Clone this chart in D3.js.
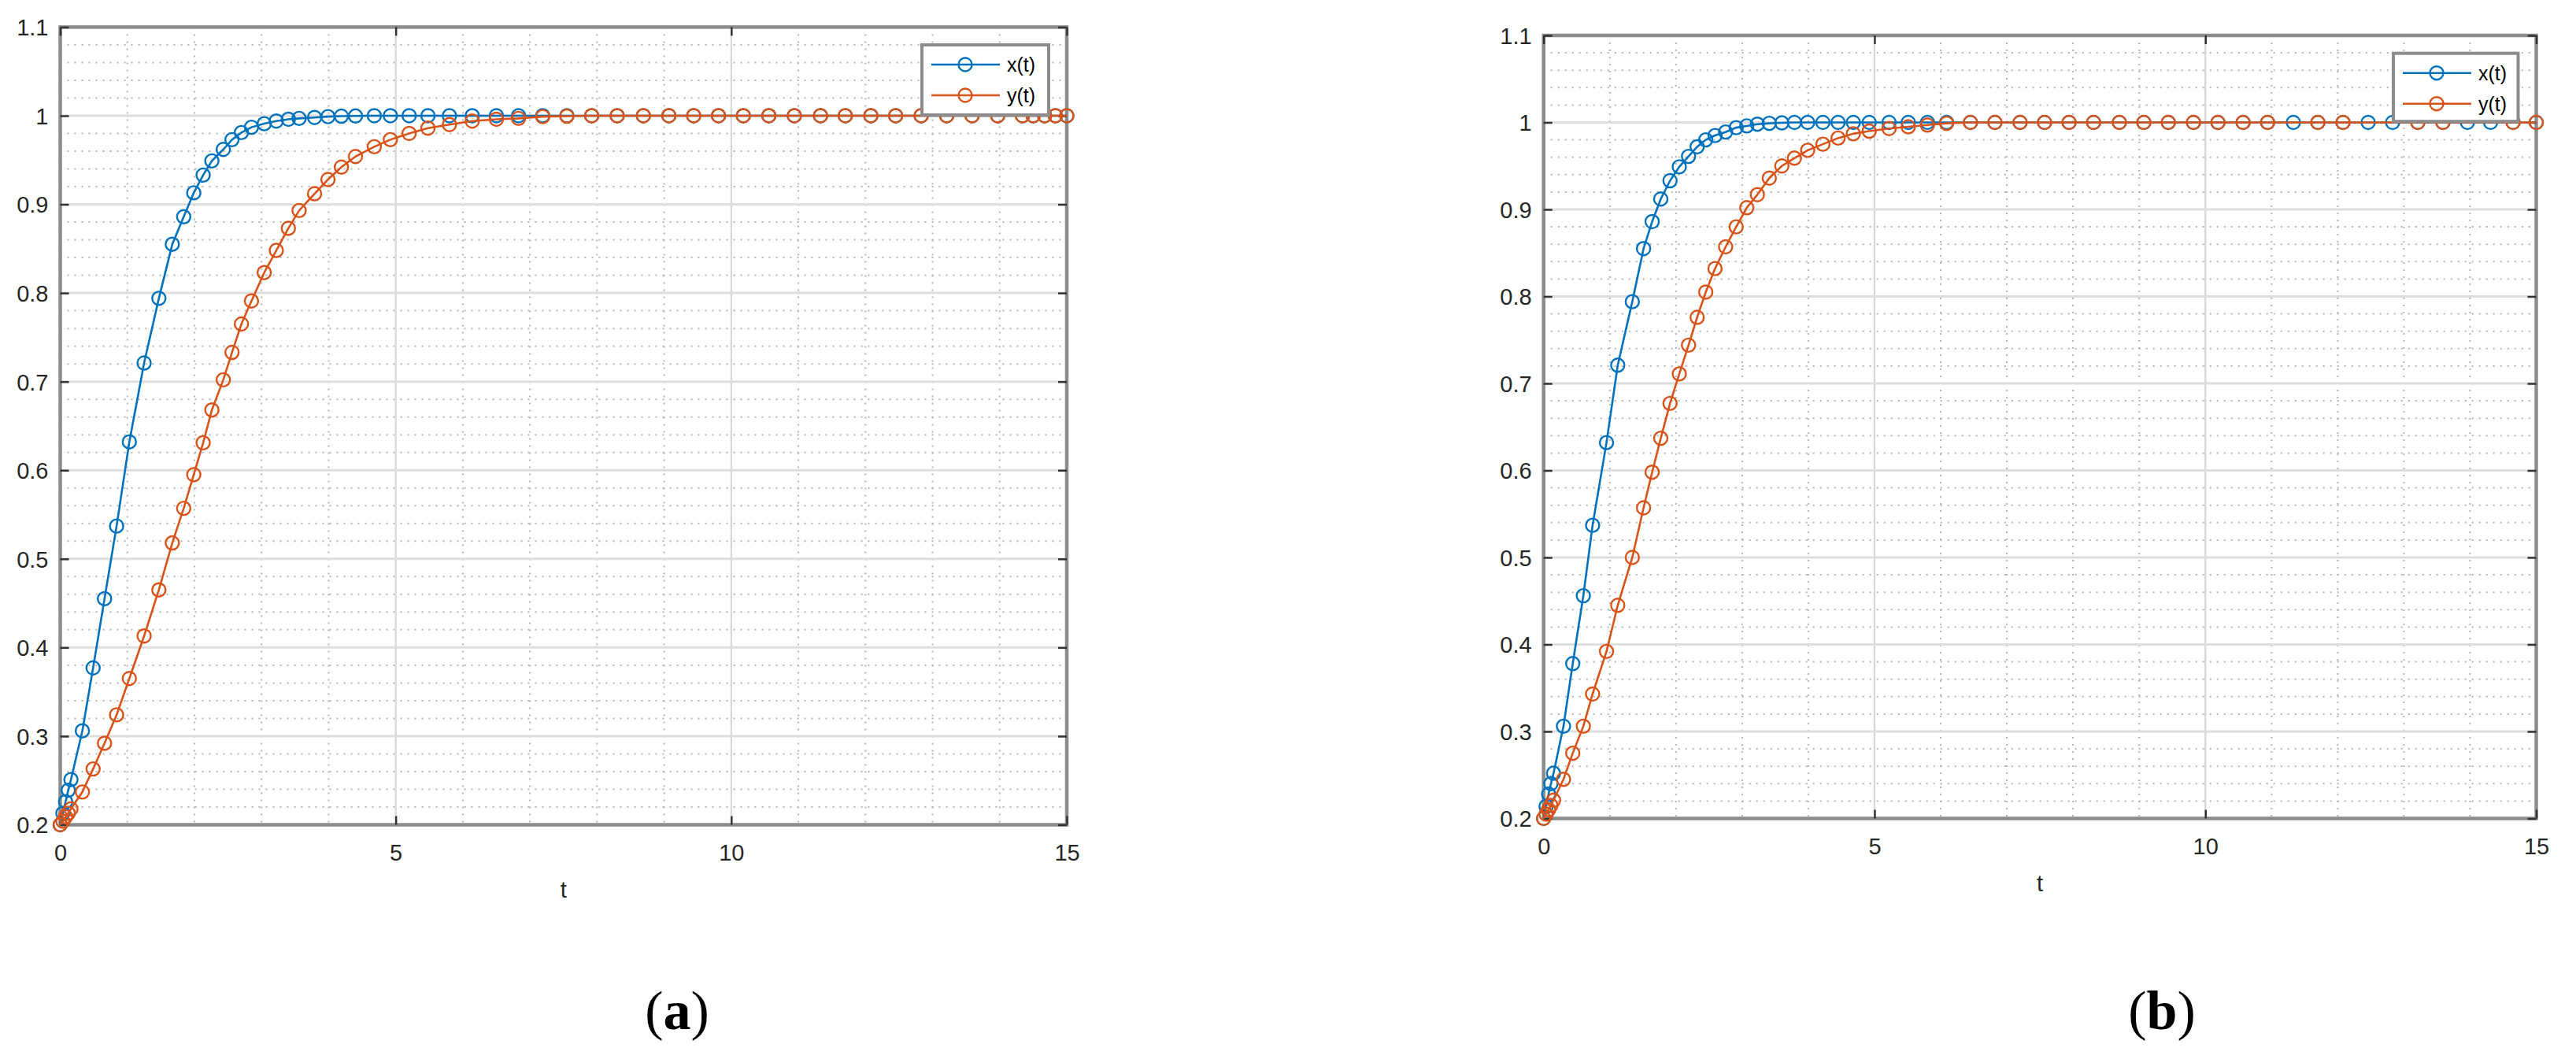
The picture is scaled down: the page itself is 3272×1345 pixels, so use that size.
<!DOCTYPE html>
<html>
<head>
<meta charset="utf-8">
<script src="https://cdn.jsdelivr.net/npm/d3@7"></script>
<style>
  html, body { margin: 0; padding: 0; background: #ffffff; }
  svg { display: block; }
</style>
</head>
<body>
<svg id="chart" width="3272" height="1345"></svg>
<script>
// ---------------- data ----------------
// panel (a): x(t) and y(t) share the solver time points
const tA = [0, 0.04, 0.08, 0.12, 0.16, 0.33, 0.49, 0.66, 0.84, 1.03, 1.25, 1.47, 1.67,
  1.84, 1.99, 2.13, 2.26, 2.43, 2.56, 2.70, 2.85, 3.04, 3.22, 3.40, 3.56, 3.79, 3.99,
  4.19, 4.40, 4.68, 4.92, 5.20, 5.48, 5.80, 6.14, 6.50, 6.83, 7.19, 7.55, 7.92, 8.30,
  8.69, 9.07, 9.44, 9.81, 10.18, 10.56, 10.94, 11.33, 11.70, 12.08, 12.45, 12.83,
  13.21, 13.59, 13.97, 14.34, 14.50, 14.67, 14.83, 15.00];
const xA = [0.200, 0.213, 0.226, 0.239, 0.251, 0.306, 0.377, 0.455, 0.537, 0.632, 0.721,
  0.794, 0.855, 0.886, 0.913, 0.933, 0.949, 0.962, 0.973, 0.981, 0.987, 0.991, 0.994,
  0.996, 0.997, 0.998, 0.999, 0.9995, 0.9997, 1, 1, 1, 1, 1, 1, 1, 1, 1, 1, 1, 1, 1, 1,
  1, 1, 1, 1, 1, 1, 1, 1, 1, 1, 1, 1, 1, 1, 1, 1, 1, 1];
const yA = [0.200, 0.204, 0.209, 0.213, 0.218, 0.237, 0.263, 0.292, 0.324, 0.365, 0.413,
  0.465, 0.518, 0.557, 0.595, 0.631, 0.668, 0.702, 0.733, 0.765, 0.791, 0.823, 0.848,
  0.873, 0.893, 0.912, 0.928, 0.942, 0.954, 0.965, 0.973, 0.980, 0.986, 0.990, 0.994,
  0.996, 0.997, 0.999, 0.9995, 1, 1, 1, 1, 1, 1, 1, 1, 1, 1, 1, 1, 1, 1, 1, 1, 1, 1, 1,
  1, 1, 1];

// panel (b): x(t) time points
const tBx = [0, 0.037, 0.075, 0.11, 0.15, 0.30, 0.44, 0.60, 0.74, 0.95, 1.12, 1.34, 1.51,
  1.64, 1.77, 1.91, 2.05, 2.19, 2.32, 2.45, 2.59, 2.75, 2.91, 3.07, 3.23, 3.41, 3.60,
  3.79, 3.99, 4.22, 4.45, 4.68, 4.92, 5.22, 5.51, 5.80, 6.09, 6.45, 6.82, 7.20, 7.57,
  7.94, 8.31, 8.70, 9.07, 9.44, 9.82, 10.19, 10.57, 10.94, 11.33, 11.70, 12.08, 12.46,
  12.83, 13.21, 13.59, 13.96, 14.31, 14.65, 15.00];
const xB = [0.200, 0.214, 0.228, 0.240, 0.252, 0.306, 0.378, 0.456, 0.537, 0.632, 0.721,
  0.794, 0.855, 0.886, 0.912, 0.933, 0.949, 0.961, 0.972, 0.980, 0.985, 0.989, 0.994,
  0.996, 0.998, 0.999, 0.9995, 1, 1, 1, 1, 1, 1, 1, 1, 1, 1, 1, 1, 1, 1, 1, 1, 1, 1, 1,
  1, 1, 1, 1, 1, 1, 1, 1, 1, 1, 1, 1, 1, 1, 1];
// panel (b): y(t) time points
const tBy = [0, 0.037, 0.075, 0.11, 0.15, 0.30, 0.44, 0.60, 0.74, 0.95, 1.12, 1.34, 1.51,
  1.64, 1.77, 1.91, 2.05, 2.19, 2.32, 2.45, 2.59, 2.75, 2.91, 3.07, 3.23, 3.41, 3.60,
  3.79, 3.99, 4.22, 4.45, 4.68, 4.92, 5.22, 5.51, 5.80, 6.09, 6.45, 6.82, 7.20, 7.57,
  7.94, 8.31, 8.70, 9.07, 9.44, 9.82, 10.19, 10.57, 10.94, 11.70, 12.08, 13.21, 13.59,
  14.65, 15.00];
const yB = [0.200, 0.205, 0.210, 0.215, 0.221, 0.245, 0.275, 0.306, 0.343, 0.392, 0.445,
  0.500, 0.557, 0.598, 0.637, 0.677, 0.711, 0.744, 0.776, 0.805, 0.832, 0.857, 0.880,
  0.902, 0.917, 0.936, 0.950, 0.959, 0.968, 0.975, 0.982, 0.987, 0.990, 0.993, 0.995,
  0.997, 0.999, 1, 1, 1, 1, 1, 1, 1, 1, 1, 1, 1, 1, 1, 1, 1, 1, 1, 1, 1];

const seriesNames = ["x(t)", "y(t)"];
const xTicks = [0, 5, 10, 15];
const xTickLabels = ["0", "5", "10", "15"];
const yTicks = [0.2, 0.3, 0.4, 0.5, 0.6, 0.7, 0.8, 0.9, 1.0, 1.1];
const yTickLabels = ["0.2", "0.3", "0.4", "0.5", "0.6", "0.7", "0.8", "0.9", "1", "1.1"];
const xMinor = d3.range(0, 16, 1);
const yMinor = d3.range(0, 46).map(i => +(0.2 + i * 0.02).toFixed(2));
const xLabel = "t";
const panelLetters = ["a", "b"];

// ---------------- styling / layout ----------------
const COLORS = ["#0072BD", "#D95319"];
const TEXT = "#262626";
const panels = [
  { left: 76.5, right: 1355, top: 34.4, bottom: 1047.5,
    legend: { x: 1171, y: 57, w: 161, h: 89 }, labelX: 860,
    series: [{ t: tA, v: xA }, { t: tA, v: yA }] },
  { left: 1960.7, right: 3221.5, top: 45, bottom: 1039.5,
    legend: { x: 3040, y: 67.7, w: 158.5, h: 86.5 }, labelX: 2746,
    series: [{ t: tBx, v: xB }, { t: tBy, v: yB }] }
];

const svg = d3.select("#chart");

panels.forEach((p, pi) => {
  const g = svg.append("g");
  const x = d3.scaleLinear().domain([0, 15]).range([p.left, p.right]);
  const y = d3.scaleLinear().domain([0.2, 1.1]).range([p.bottom, p.top]);

  // minor grid (dotted)
  const isMajX = v => xTicks.includes(v);
  const isMajY = v => yTicks.some(m => Math.abs(m - v) < 1e-6);
  g.append("g").selectAll("line").data(xMinor.filter(v => !isMajX(v))).join("line")
    .attr("x1", d => x(d)).attr("x2", d => x(d))
    .attr("y1", p.top).attr("y2", p.bottom)
    .attr("stroke", "#b4b4b4").attr("stroke-width", 2).attr("stroke-dasharray", "2,7");
  g.append("g").selectAll("line").data(yMinor.filter(v => !isMajY(v))).join("line")
    .attr("x1", p.left).attr("x2", p.right)
    .attr("y1", d => y(d)).attr("y2", d => y(d))
    .attr("stroke", "#b4b4b4").attr("stroke-width", 2).attr("stroke-dasharray", "2,7");

  // major grid
  g.append("g").selectAll("line").data(xTicks.filter(v => v > 0 && v < 15)).join("line")
    .attr("x1", d => x(d)).attr("x2", d => x(d))
    .attr("y1", p.top).attr("y2", p.bottom)
    .attr("stroke", "#d6d6d6").attr("stroke-width", 2.2);
  g.append("g").selectAll("line").data(yTicks.filter(v => v > 0.25 && v < 1.05)).join("line")
    .attr("x1", p.left).attr("x2", p.right)
    .attr("y1", d => y(d)).attr("y2", d => y(d))
    .attr("stroke", "#dedede").attr("stroke-width", 3);

  // axis box
  g.append("rect").attr("x", p.left).attr("y", p.top)
    .attr("width", p.right - p.left).attr("height", p.bottom - p.top)
    .attr("fill", "none").attr("stroke", "#8c8c8c").attr("stroke-width", 4.5);

  // ticks via d3 axes (inward)
  const styleAxis = sel => {
    sel.select(".domain").remove();
    sel.selectAll(".tick line").attr("stroke", "#333").attr("stroke-width", 2.5);
  };
  const axB = g.append("g").attr("transform", `translate(0,${p.bottom})`)
    .call(d3.axisBottom(x).tickValues(xTicks).tickSize(-11).tickFormat((d, i) => xTickLabels[i]));
  styleAxis(axB);
  axB.selectAll(".tick text").attr("y", 35).attr("dy", "0.36em")
    .attr("font-family", "Liberation Sans, Arial, sans-serif").attr("font-size", 29)
    .attr("fill", TEXT);
  const axT = g.append("g").attr("transform", `translate(0,${p.top})`)
    .call(d3.axisTop(x).tickValues(xTicks).tickSize(-11).tickFormat(""));
  styleAxis(axT);
  const axL = g.append("g").attr("transform", `translate(${p.left},0)`)
    .call(d3.axisLeft(y).tickValues(yTicks).tickSize(-11).tickFormat((d, i) => yTickLabels[i]));
  styleAxis(axL);
  axL.selectAll(".tick text").attr("x", -15).attr("dy", "0.36em")
    .attr("font-family", "Liberation Sans, Arial, sans-serif").attr("font-size", 29)
    .attr("fill", TEXT);
  const axR = g.append("g").attr("transform", `translate(${p.right},0)`)
    .call(d3.axisRight(y).tickValues(yTicks).tickSize(-11).tickFormat(""));
  styleAxis(axR);

  // x label
  g.append("text").attr("x", (p.left + p.right) / 2).attr("y", p.bottom + 82)
    .attr("dy", "0.36em").attr("text-anchor", "middle")
    .attr("font-family", "Liberation Sans, Arial, sans-serif").attr("font-size", 29)
    .attr("fill", TEXT).text(xLabel);

  // series
  const line = d3.line().x(d => x(d[0])).y(d => y(d[1]));
  p.series.forEach((s, si) => {
    const pts = s.t.map((t, i) => [t, s.v[i]]);
    const sg = g.append("g");
    sg.append("path").attr("d", line(pts)).attr("fill", "none")
      .attr("stroke", COLORS[si]).attr("stroke-width", 2.6);
    sg.selectAll("circle").data(pts).join("circle")
      .attr("cx", d => x(d[0])).attr("cy", d => y(d[1])).attr("r", 8.5)
      .attr("fill", "none").attr("stroke", COLORS[si]).attr("stroke-width", 2.4);
  });

  // legend
  const L = p.legend;
  const lg = g.append("g");
  lg.append("rect").attr("x", L.x).attr("y", L.y).attr("width", L.w).attr("height", L.h)
    .attr("fill", "#ffffff").attr("stroke", "#8c8c8c").attr("stroke-width", 4);
  seriesNames.forEach((name, si) => {
    const ly = L.y + 25 + si * 39;
    lg.append("line").attr("x1", L.x + 12).attr("x2", L.x + 99)
      .attr("y1", ly).attr("y2", ly).attr("stroke", COLORS[si]).attr("stroke-width", 2.6);
    lg.append("circle").attr("cx", L.x + 55).attr("cy", ly).attr("r", 8.5)
      .attr("fill", "none").attr("stroke", COLORS[si]).attr("stroke-width", 2.4);
    lg.append("text").attr("x", L.x + 108).attr("y", ly).attr("dy", "0.36em")
      .attr("font-family", "Liberation Sans, Arial, sans-serif").attr("font-size", 25)
      .attr("fill", "#000").text(name);
  });

  // panel label (a)/(b)
  const pl = svg.append("text").attr("x", p.labelX).attr("y", 1307)
    .attr("text-anchor", "middle")
    .attr("font-family", "Liberation Serif, Times New Roman, serif").attr("font-size", 70)
    .attr("fill", "#000");
  pl.append("tspan").text("(");
  pl.append("tspan").attr("font-weight", "bold").text(panelLetters[pi]);
  pl.append("tspan").text(")");
});
</script>
</body>
</html>
